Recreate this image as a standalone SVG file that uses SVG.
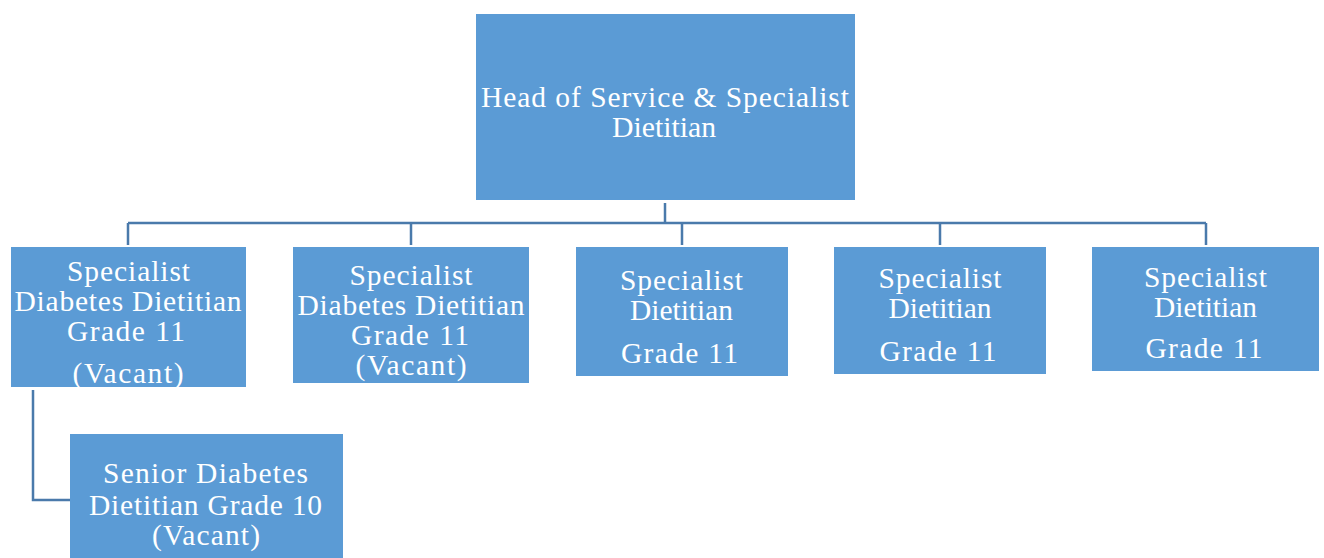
<svg xmlns="http://www.w3.org/2000/svg" width="1324" height="558" viewBox="0 0 1324 558">
<style>
.box{fill:#5b9bd5;}
.t{font-family:"Liberation Serif","Times New Roman",serif;font-size:29.5px;fill:#ffffff;text-anchor:middle;}
.c{fill:none;stroke:#4a7aab;stroke-width:2.5;}
</style>
<rect width="1324" height="558" fill="#ffffff"/>
<g id="connectors">
<path class="c" d="M665,203 V223"/>
<path class="c" d="M128,223 H1206"/>
<path class="c" d="M128,223 V245 M411,223 V245 M682,223 V245 M940,223 V245 M1206,223 V245"/>
<path class="c" d="M33,390 V500 H70"/>
</g>
<g id="head">
<rect class="box" x="476" y="14" width="379" height="186"/>
<text class="t" x="665" y="107" textLength="368" lengthAdjust="spacing">Head of Service &amp; Specialist</text>
<text class="t" x="664" y="137" textLength="104" lengthAdjust="spacingAndGlyphs">Dietitian</text>
</g>
<g id="n1">
<rect class="box" x="11" y="247" width="235" height="140"/>
<text class="t" x="128.5" y="281" textLength="123" lengthAdjust="spacing">Specialist</text>
<text class="t" x="128" y="311" textLength="227" lengthAdjust="spacing">Diabetes Dietitian</text>
<text class="t" x="126" y="341" textLength="118" lengthAdjust="spacing">Grade 11</text>
<text class="t" x="128" y="383" textLength="111" lengthAdjust="spacing">(Vacant)</text>
</g>
<g id="n2">
<rect class="box" x="293" y="247" width="236" height="136"/>
<text class="t" x="411" y="285" textLength="123" lengthAdjust="spacing">Specialist</text>
<text class="t" x="411" y="315" textLength="227" lengthAdjust="spacing">Diabetes Dietitian</text>
<text class="t" x="410" y="345" textLength="118" lengthAdjust="spacing">Grade 11</text>
<text class="t" x="411" y="375" textLength="111" lengthAdjust="spacing">(Vacant)</text>
</g>
<g id="n3">
<rect class="box" x="576" y="247" width="212" height="129"/>
<text class="t" x="681.5" y="290" textLength="123" lengthAdjust="spacing">Specialist</text>
<text class="t" x="681.5" y="320" textLength="103" lengthAdjust="spacingAndGlyphs">Dietitian</text>
<text class="t" x="679.5" y="363" textLength="117" lengthAdjust="spacing">Grade 11</text>
</g>
<g id="n4">
<rect class="box" x="834" y="247" width="212" height="127"/>
<text class="t" x="940" y="288" textLength="123" lengthAdjust="spacing">Specialist</text>
<text class="t" x="940" y="318" textLength="103" lengthAdjust="spacingAndGlyphs">Dietitian</text>
<text class="t" x="938" y="361" textLength="117" lengthAdjust="spacing">Grade 11</text>
</g>
<g id="n5">
<rect class="box" x="1092" y="247" width="227" height="124"/>
<text class="t" x="1205.5" y="287" textLength="123" lengthAdjust="spacing">Specialist</text>
<text class="t" x="1205.5" y="317" textLength="103" lengthAdjust="spacingAndGlyphs">Dietitian</text>
<text class="t" x="1204" y="358" textLength="117" lengthAdjust="spacing">Grade 11</text>
</g>
<g id="n6">
<rect class="box" x="70" y="434" width="273" height="130"/>
<text class="t" x="205.5" y="483" textLength="205" lengthAdjust="spacing">Senior Diabetes</text>
<text class="t" x="205.5" y="515" textLength="233" lengthAdjust="spacing">Dietitian Grade 10</text>
<text class="t" x="206" y="545" textLength="108" lengthAdjust="spacing">(Vacant)</text>
</g>
</svg>
